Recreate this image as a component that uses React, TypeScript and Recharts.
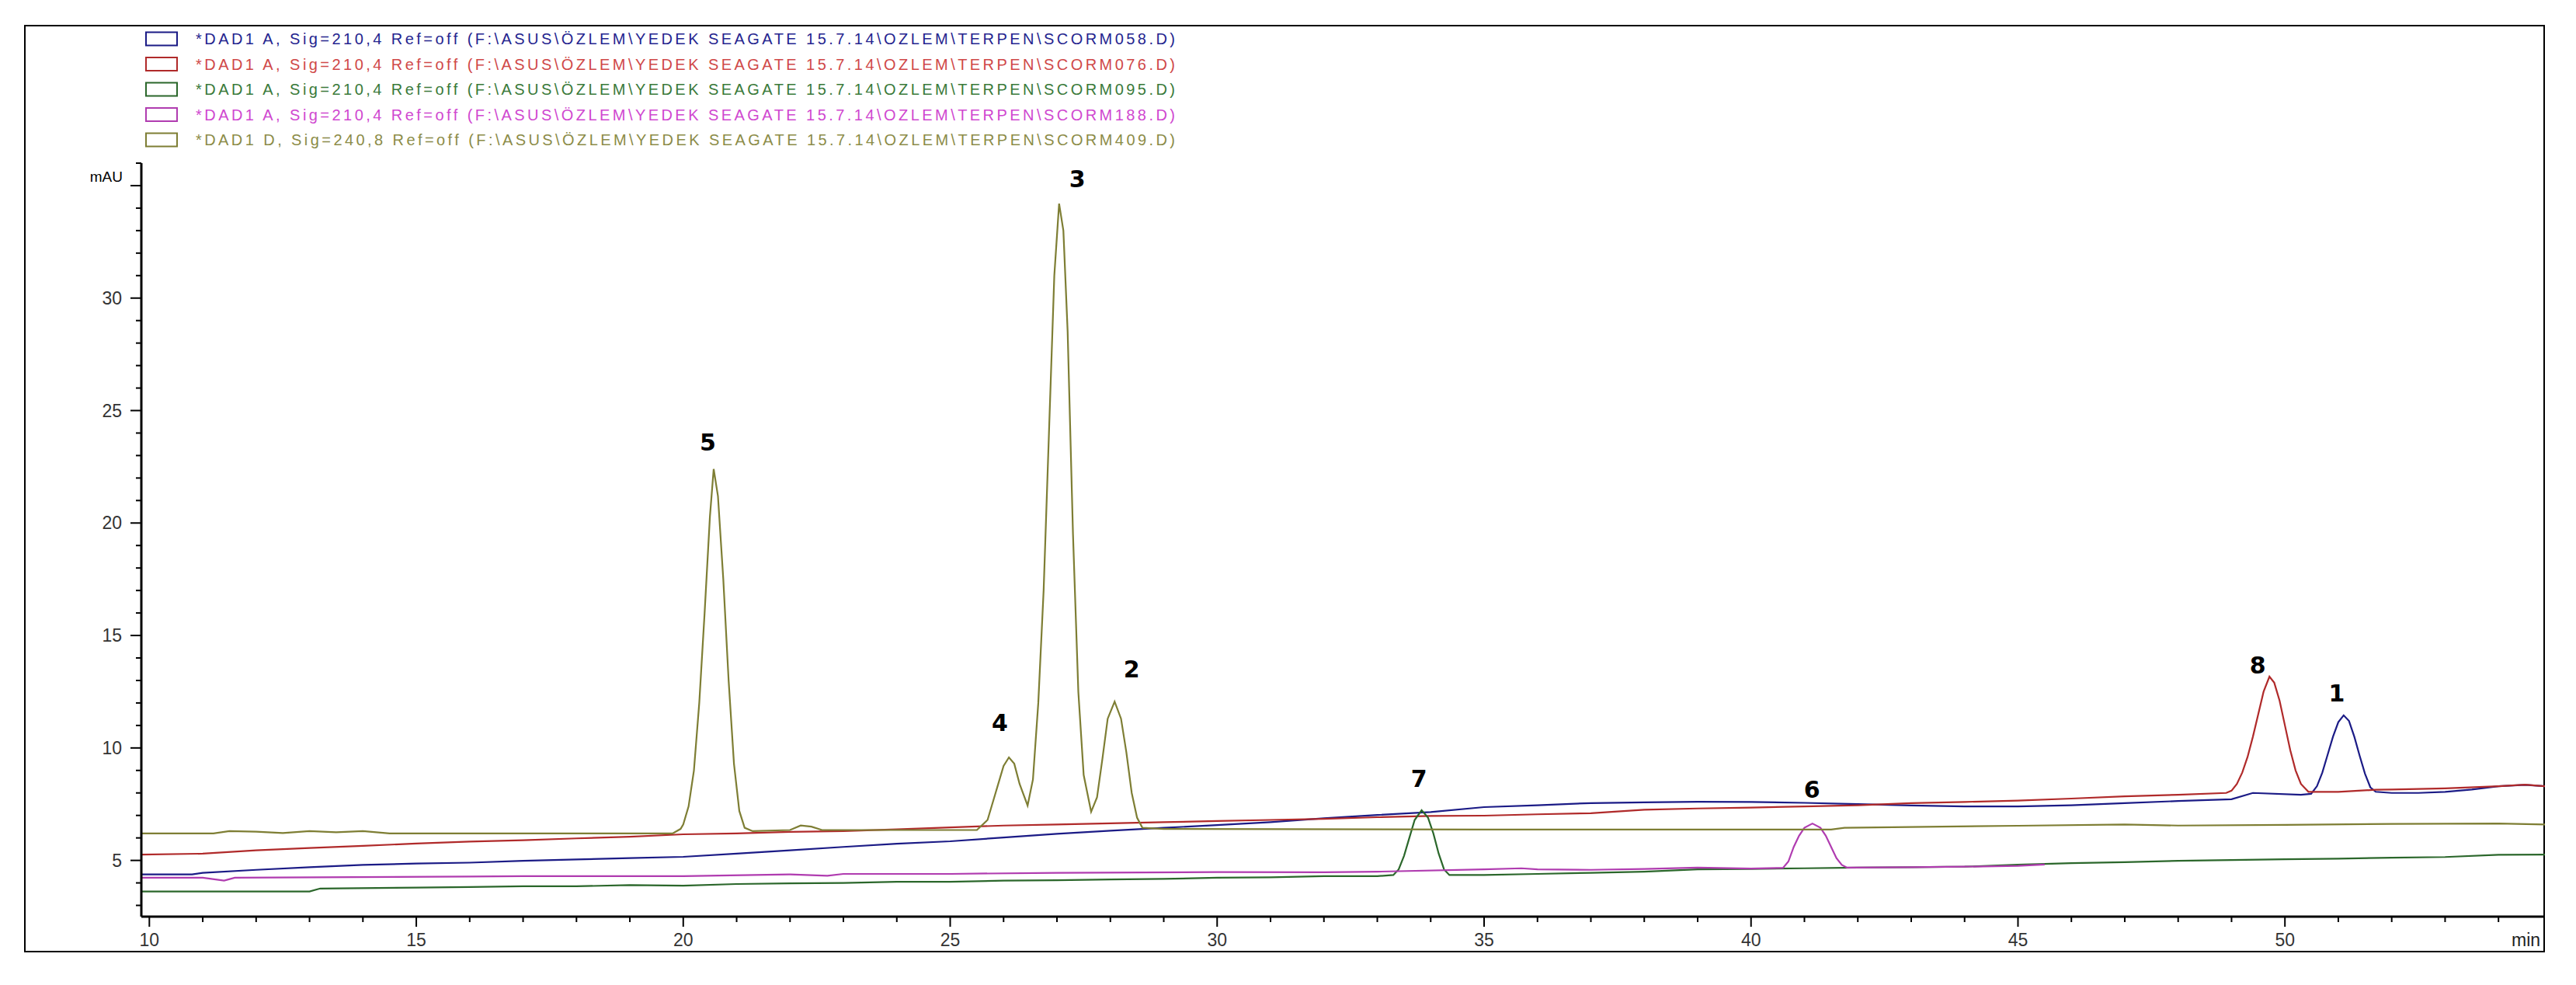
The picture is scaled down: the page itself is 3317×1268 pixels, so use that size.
import React from "react";
import { LineChart, Line, XAxis, YAxis, ReferenceDot } from "recharts";

type Pt = { t: number; v: number };
const pts = (arr: number[][]): Pt[] => arr.map(([t, v]) => ({ t, v }));

// retention time (min) / absorbance (mAU)
const scorm058 = pts([
  [9.85, 4.38], [10.8, 4.38], [11.0, 4.45], [12, 4.58], [13, 4.7], [14, 4.8], [15, 4.86],
  [16, 4.9], [17, 4.98], [18, 5.04], [19, 5.1], [20, 5.16], [21, 5.3], [22, 5.45],
  [23, 5.6], [24, 5.74], [25, 5.85], [26, 6.02], [27, 6.18], [28, 6.32], [29, 6.45],
  [30, 6.57], [31, 6.7], [32, 6.87], [33, 7.02], [34, 7.15], [35, 7.37], [36, 7.45],
  [37, 7.55], [38, 7.58], [39, 7.61], [40, 7.6], [41, 7.56], [42, 7.5], [43, 7.44],
  [44, 7.4], [45, 7.4], [46, 7.45], [47, 7.55], [48, 7.64], [49, 7.72], [49.4, 8.0],
  [50.3, 7.92], [50.49, 7.96], [50.6, 8.3], [50.7, 8.9], [50.8, 9.7], [50.9, 10.5],
  [51.0, 11.15], [51.1, 11.45], [51.2, 11.2], [51.3, 10.5], [51.4, 9.65], [51.5, 8.85],
  [51.6, 8.25], [51.7, 8.05], [52, 8.0], [52.5, 8.0], [53, 8.05], [53.5, 8.15],
  [54, 8.3], [54.5, 8.36], [54.87, 8.3],
]);

const scorm076 = pts([
  [9.85, 5.26], [11, 5.3], [12, 5.45], [13, 5.55], [14, 5.65], [15, 5.75], [16, 5.84],
  [17, 5.9], [18, 5.98], [19, 6.05], [20, 6.16], [21, 6.2], [22, 6.27], [23, 6.3],
  [24, 6.38], [25, 6.47], [26, 6.55], [27, 6.6], [28, 6.65], [29, 6.7], [30, 6.75],
  [31, 6.8], [32, 6.85], [33, 6.92], [34, 6.98], [35, 6.99], [36, 7.05], [37, 7.1],
  [38, 7.25], [39, 7.31], [40, 7.35], [41, 7.4], [42, 7.45], [43, 7.55], [44, 7.6],
  [45, 7.66], [46, 7.75], [47, 7.85], [48, 7.92], [48.9, 8.0], [49.0, 8.1], [49.1, 8.4],
  [49.2, 8.9], [49.3, 9.6], [49.4, 10.5], [49.5, 11.5], [49.6, 12.5], [49.71, 13.17],
  [49.8, 12.9], [49.9, 12.1], [50.0, 11.0], [50.1, 9.9], [50.2, 9.0], [50.3, 8.4],
  [50.44, 8.05], [51, 8.05], [51.7, 8.14], [52, 8.15], [53, 8.2], [54, 8.3],
  [54.5, 8.37], [54.87, 8.3],
]);

const scorm095 = pts([
  [9.85, 3.62], [13, 3.62], [13.2, 3.75], [15, 3.79], [16, 3.82], [17, 3.85], [18, 3.85],
  [19, 3.9], [20, 3.88], [21, 3.95], [22, 3.98], [23, 4.0], [24, 4.05], [25, 4.05],
  [26, 4.1], [27, 4.12], [28, 4.15], [29, 4.18], [30, 4.23], [31, 4.25], [32, 4.3],
  [33, 4.3], [33.3, 4.35], [33.4, 4.6], [33.5, 5.2], [33.6, 6.0], [33.7, 6.8],
  [33.83, 7.23], [33.95, 6.9], [34.05, 6.2], [34.15, 5.3], [34.25, 4.6], [34.35, 4.35],
  [35, 4.35], [36, 4.4], [37, 4.45], [38, 4.5], [39, 4.6], [40, 4.62], [41, 4.65],
  [42, 4.68], [43, 4.7], [44, 4.72], [45, 4.81], [46, 4.88], [47, 4.92], [48, 4.98],
  [49, 5.02], [50, 5.05], [51, 5.08], [52, 5.12], [53, 5.15], [54, 5.25], [54.87, 5.26],
]);

const scorm188 = pts([
  [9.85, 4.23], [11, 4.23], [11.4, 4.1], [11.6, 4.23], [16, 4.28], [17, 4.3], [20, 4.3],
  [22, 4.38], [22.7, 4.32], [23, 4.4], [25, 4.4], [27, 4.45], [30, 4.48], [32, 4.47],
  [33, 4.5], [35, 4.6], [35.7, 4.65], [36, 4.6], [37, 4.58], [38, 4.62], [39, 4.68],
  [40, 4.64], [40.6, 4.67], [40.7, 4.95], [40.8, 5.6], [40.9, 6.1], [41.0, 6.45],
  [41.15, 6.64], [41.3, 6.45], [41.4, 6.1], [41.5, 5.6], [41.6, 5.1], [41.7, 4.8],
  [41.8, 4.68], [43, 4.7], [44, 4.72], [45, 4.76], [45.5, 4.82],
]);

const scorm409 = pts([
  [9.85, 6.2], [11.2, 6.2], [11.5, 6.3], [12, 6.28], [12.5, 6.22], [13, 6.3], [13.5, 6.25],
  [14, 6.3], [14.5, 6.2], [19.8, 6.2], [19.95, 6.4], [20.0, 6.6], [20.1, 7.4],
  [20.2, 9.0], [20.3, 12.0], [20.4, 16.0], [20.5, 20.3], [20.57, 22.4], [20.65, 21.2],
  [20.75, 17.5], [20.85, 13.0], [20.95, 9.3], [21.05, 7.2], [21.15, 6.45], [21.3, 6.3],
  [22, 6.35], [22.2, 6.55], [22.4, 6.5], [22.6, 6.35], [25.5, 6.35], [25.7, 6.8],
  [25.85, 8.0], [26.0, 9.2], [26.1, 9.58], [26.2, 9.3], [26.3, 8.4], [26.45, 7.44],
  [26.55, 8.6], [26.65, 12.0], [26.75, 17.0], [26.85, 24.0], [26.95, 31.0],
  [27.04, 34.2], [27.12, 33.0], [27.2, 28.5], [27.3, 19.5], [27.4, 12.5], [27.5, 8.8],
  [27.64, 7.16], [27.75, 7.8], [27.85, 9.5], [27.95, 11.3], [28.08, 12.06],
  [28.2, 11.3], [28.3, 9.8], [28.4, 8.0], [28.5, 6.9], [28.6, 6.45], [29, 6.4],
  [35, 6.37], [41.5, 6.37], [41.75, 6.45], [45, 6.54], [47, 6.6], [48, 6.55],
  [50, 6.58], [52, 6.62], [54, 6.64], [54.87, 6.6],
]);

const series = [scorm058, scorm076, scorm095, scorm188, scorm409];
const lineColors = ["#1b1b86", "#b02a2a", "#2b672b", "#b03cb0", "#7e7e34"];
const legendColors = ["#25258f", "#d04848", "#3a7a3a", "#d048d0", "#8c8c48"];
const legendLabels = [
  "*DAD1 A, Sig=210,4 Ref=off (F:\\ASUS\\ÖZLEM\\YEDEK SEAGATE 15.7.14\\OZLEM\\TERPEN\\SCORM058.D)",
  "*DAD1 A, Sig=210,4 Ref=off (F:\\ASUS\\ÖZLEM\\YEDEK SEAGATE 15.7.14\\OZLEM\\TERPEN\\SCORM076.D)",
  "*DAD1 A, Sig=210,4 Ref=off (F:\\ASUS\\ÖZLEM\\YEDEK SEAGATE 15.7.14\\OZLEM\\TERPEN\\SCORM095.D)",
  "*DAD1 A, Sig=210,4 Ref=off (F:\\ASUS\\ÖZLEM\\YEDEK SEAGATE 15.7.14\\OZLEM\\TERPEN\\SCORM188.D)",
  "*DAD1 D, Sig=240,8 Ref=off (F:\\ASUS\\ÖZLEM\\YEDEK SEAGATE 15.7.14\\OZLEM\\TERPEN\\SCORM409.D)",
];

// peak numbers, placed where they sit in the figure
const peakNames = ["5", "3", "4", "2", "7", "6", "8", "1"];
const peakTimes = [20.46, 27.38, 25.93, 28.4, 33.78, 41.14, 49.49, 50.97];
const peakHeights = [23.6, 35.3, 11.13, 13.52, 8.65, 8.16, 13.69, 12.44];

const xTicks = [10, 11, 12, 13, 14, 15, 16, 17, 18, 19, 20, 21, 22, 23, 24, 25, 26, 27, 28, 29,
  30, 31, 32, 33, 34, 35, 36, 37, 38, 39, 40, 41, 42, 43, 44, 45, 46, 47, 48, 49, 50, 51, 52, 53, 54];
const yTicks = [3, 4, 5, 6, 7, 8, 9, 10, 11, 12, 13, 14, 15, 16, 17, 18, 19, 20, 21, 22, 23, 24,
  25, 26, 27, 28, 29, 30, 31, 32, 33, 34, 35, 36];
const yLabelled = [5, 10, 15, 20, 25, 30];

const tickFont = "'Liberation Sans', Arial, sans-serif";

const XTick = (props: any) => {
  const { x, y, payload } = props;
  const major = payload.value % 5 === 0;
  return (
    <g>
      <line x1={x} x2={x} y1={y} y2={y + (major ? 13 : 7)} stroke="#000" strokeWidth={2} />
      {major && (
        <text x={x} y={y + 30} textAnchor="middle" dominantBaseline="central"
          fontSize={23} fill="#333" fontFamily={tickFont}>
          {payload.value}
        </text>
      )}
    </g>
  );
};

const YTick = (props: any) => {
  const { x, y, payload } = props;
  const major = payload.value % 5 === 0;
  return (
    <g>
      <line x1={x - (major ? 14 : 7)} x2={x} y1={y} y2={y} stroke="#000" strokeWidth={2} />
      {yLabelled.includes(payload.value) && (
        <text x={x - 25} y={y} textAnchor="end" dominantBaseline="central"
          fontSize={23} fill="#333" fontFamily={tickFont}>
          {payload.value}
        </text>
      )}
    </g>
  );
};

export default function App() {
  return (
    <div style={{ position: "absolute", left: 0, top: 0, width: 3317, height: 1268, background: "#fff" }}>
      <div style={{ position: "absolute", left: 31, top: 32, width: 3246, height: 1194,
        border: "2.5px solid #000", boxSizing: "border-box" }} />
      <LineChart width={3317} height={1268} data={scorm058}
        margin={{ top: 210, right: 40, bottom: 48, left: 102 }}
        style={{ position: "absolute", left: 0, top: 0 }}>
        <XAxis dataKey="t" type="number" domain={[9.85, 54.87]} ticks={xTicks} interval={0}
          allowDataOverflow tickSize={0} tickMargin={0} height={40}
          axisLine={{ stroke: "#000", strokeWidth: 3 }} tick={<XTick />} />
        <YAxis type="number" domain={[2.5, 36]} ticks={yTicks} interval={0} allowDataOverflow
          tickSize={0} tickMargin={0} width={80}
          axisLine={{ stroke: "#000", strokeWidth: 3 }} tick={<YTick />} />
        {series.map((d, i) => (
          <Line key={i} data={d} dataKey="v" type="linear" stroke={lineColors[i]}
            strokeWidth={2.2} dot={false} activeDot={false} isAnimationActive={false} />
        ))}
        {peakNames.map((n, i) => (
          <ReferenceDot key={n} x={peakTimes[i]} y={peakHeights[i]} r={0} stroke="none"
            label={{ value: n, position: "center", fill: "#000", fontSize: 30, fontWeight: "bold",
              fontFamily: "'DejaVu Sans', Verdana, sans-serif" }} />
        ))}
      </LineChart>
      <svg width={3317} height={260} style={{ position: "absolute", left: 0, top: 0 }}>
        {legendLabels.map((s, i) => {
          const cy = 50 + i * 32.5;
          return (
            <g key={i}>
              <rect x={188} y={cy - 8.5} width={40} height={17} fill="#fff"
                stroke={lineColors[i]} strokeWidth={2} />
              <text x={252} y={cy} dominantBaseline="central" fontSize={20} fill={legendColors[i]}
                fontFamily={tickFont} textLength={1261} lengthAdjust="spacing">
                {s}
              </text>
            </g>
          );
        })}
        <text x={158} y={227} textAnchor="end" dominantBaseline="central" fontSize={19}
          fill="#000" fontFamily={tickFont}>mAU</text>
      </svg>
      <div style={{ position: "absolute", left: 3234, top: 1195, fontSize: 23, color: "#222",
        fontFamily: tickFont, whiteSpace: "nowrap", lineHeight: "30px" }}>min</div>
    </div>
  );
}
